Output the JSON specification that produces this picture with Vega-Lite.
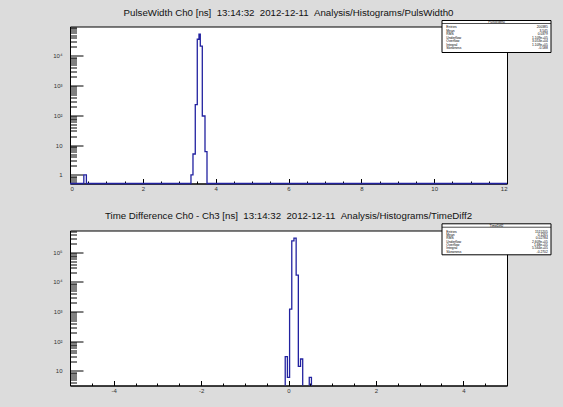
{
  "$schema": "https://vega.github.io/schema/vega-lite/v6.json",
  "background": "#dcdcdc",
  "padding": {"left": 49, "top": 6.5, "right": 11, "bottom": 11},
  "config": {
    "view": {"stroke": "#000000", "strokeWidth": 1, "fill": "white"},
    "font": "Liberation Sans",
    "title": {"font": "Liberation Sans", "fontSize": 9.7, "fontWeight": "normal", "color": "#111111", "offset": 2.6, "anchor": "middle", "baseline": "alphabetic"},
    "axis": {"labelFont": "Liberation Sans", "labelFontSize": 6, "labelColor": "#333333", "tickColor": "#000000", "domainColor": "#000000", "grid": false, "title": null}
  },
  "datasets": {
    "pw": [
      {"x": 0, "n": 0}, {"x": 0.38, "n": 1}, {"x": 0.45, "n": 0},
      {"x": 3.322, "n": 1}, {"x": 3.377, "n": 5}, {"x": 3.44, "n": 230},
      {"x": 3.495, "n": 36000}, {"x": 3.542, "n": 53000}, {"x": 3.578, "n": 21000},
      {"x": 3.633, "n": 95}, {"x": 3.707, "n": 6}, {"x": 3.762, "n": 0}, {"x": 12, "n": 0}
    ],
    "td": [
      {"x": -5, "n": 0}, {"x": -0.075, "n": 30}, {"x": -0.025, "n": 6},
      {"x": 0.025, "n": 1200}, {"x": 0.075, "n": 240000}, {"x": 0.125, "n": 300000},
      {"x": 0.175, "n": 17000}, {"x": 0.225, "n": 14}, {"x": 0.275, "n": 25},
      {"x": 0.325, "n": 0}, {"x": 0.475, "n": 6}, {"x": 0.525, "n": 0}, {"x": 5, "n": 0}
    ],
    "pwStats": [
      {"stat": "Entries", "value": "200385"},
      {"stat": "Mean", "value": "3.545"},
      {"stat": "RMS", "value": "0.0379"},
      {"stat": "Underflow", "value": "1.109e+05"},
      {"stat": "Overflow", "value": "3.053e+04"},
      {"stat": "Integral", "value": "1.109e+05"},
      {"stat": "Skewness", "value": "-0.588"}
    ],
    "tdStats": [
      {"stat": "Entries", "value": "1515205"},
      {"stat": "Mean", "value": "0.1265"},
      {"stat": "RMS", "value": "0.02784"},
      {"stat": "Underflow", "value": "2.609e+05"},
      {"stat": "Overflow", "value": "1.68e+05"},
      {"stat": "Integral", "value": "5.564e+05"},
      {"stat": "Skewness", "value": "-0.2702"}
    ]
  },
  "spacing": 47,
  "bounds": "flush",
  "vconcat": [
    {
      "width": 437,
      "height": 157,
      "title": {"text": "PulseWidth Ch0 [ns] \u00a013:14:32 \u00a02012-12-11 \u00a0Analysis/Histograms/PulsWidth0"},
      "layer": [
        {
          "data": {"name": "pw"},
          "mark": {"type": "line", "interpolate": "step-after", "clip": false, "color": "#2222a0", "strokeWidth": 1.3},
          "encoding": {
            "x": {"field": "x", "type": "quantitative",
              "scale": {"domain": [0, 12], "nice": false, "zero": false},
              "axis": {"orient": "bottom", "values": [0, 2, 4, 6, 8, 10, 12], "tickSize": -5, "labelPadding": 7, "labelExpr": "datum.value + ''", "minExtent": 12, "maxExtent": 12}},
            "y": {"field": "n", "type": "quantitative",
              "scale": {"type": "symlog", "constant": 0.001, "domain": [0.51, 96600], "clamp": true, "nice": false, "zero": false},
              "axis": {"orient": "left", "values": [1, 10, 100, 1000, 10000], "tickSize": -13, "labelPadding": 21, "labelExpr": "datum.value < 5 ? '1' : datum.value < 50 ? '10' : '10' + ['', '', '²', '³', '⁴', '⁵'][round(log(datum.value) / LN10)]", "minExtent": 20, "maxExtent": 20}}
          }
        },
        {
          "data": {"name": "pw"},
          "mark": {"type": "line", "opacity": 0},
          "encoding": {
            "x": {"field": "x", "type": "quantitative",
              "scale": {"domain": [0, 12], "nice": false, "zero": false},
              "axis": {"orient": "bottom", "values": [0.5, 1, 1.5, 2.5, 3, 3.5, 4.5, 5, 5.5, 6.5, 7, 7.5, 8.5, 9, 9.5, 10.5, 11, 11.5], "tickSize": -2.5, "labels": false, "domain": false, "minExtent": 12, "maxExtent": 12}},
            "y": {"field": "n", "type": "quantitative",
              "scale": {"type": "symlog", "constant": 0.001, "domain": [0.51, 96600], "clamp": true, "nice": false, "zero": false},
              "axis": {"orient": "left", "values": [0.6, 0.7, 0.8, 0.9, 2, 3, 4, 5, 6, 7, 8, 9, 20, 30, 40, 50, 60, 70, 80, 90, 200, 300, 400, 500, 600, 700, 800, 900, 2000, 3000, 4000, 5000, 6000, 7000, 8000, 9000, 20000, 30000, 40000, 50000, 60000, 70000, 80000, 90000], "tickSize": -6.5, "labels": false, "domain": false, "minExtent": 20, "maxExtent": 20}}
          }
        },
        {
          "data": {"values": [{}]},
          "mark": {"type": "rect", "fill": "white", "stroke": "#000000", "strokeWidth": 1},
          "encoding": {
            "x": {"datum": 0, "type": "quantitative", "scale": {"domain": [0, 1], "range": [372, 481]}, "axis": null},
            "x2": {"datum": 1},
            "y": {"datum": 0, "type": "quantitative", "scale": {"domain": [0, 1], "range": [-6, 26]}, "axis": null},
            "y2": {"datum": 1}
          }
        },
        {
          "data": {"values": [{}]},
          "mark": {"type": "rule", "stroke": "#000000", "strokeWidth": 0.7},
          "encoding": {
            "x": {"datum": 0, "type": "quantitative", "scale": {"domain": [0, 1], "range": [372, 481]}, "axis": null},
            "x2": {"datum": 1},
            "y": {"datum": 0.094, "type": "quantitative", "scale": {"domain": [0, 1], "range": [-6, 26]}, "axis": null}
          }
        },
        {
          "data": {"values": [{"name": "PulsWidth0"}]},
          "mark": {"type": "text", "align": "center", "baseline": "middle", "fontSize": 3.3, "color": "#000000"},
          "encoding": {
            "x": {"datum": 0.5, "type": "quantitative", "scale": {"domain": [0, 1], "range": [372, 481]}, "axis": null},
            "y": {"datum": 0.05, "type": "quantitative", "scale": {"domain": [0, 1], "range": [-6, 26]}, "axis": null},
            "text": {"field": "name"}
          }
        },
        {
          "data": {"name": "pwStats"},
          "mark": {"type": "text", "align": "left", "baseline": "middle", "fontSize": 3.3, "color": "#000000"},
          "encoding": {
            "x": {"datum": 0.04, "type": "quantitative", "scale": {"domain": [0, 1], "range": [372, 481]}, "axis": null},
            "y": {"field": "stat", "type": "ordinal", "scale": {"type": "point", "domain": ["Entries", "Mean", "RMS", "Underflow", "Overflow", "Integral", "Skewness"], "range": [-1, 23.3]}, "axis": null},
            "text": {"field": "stat"}
          }
        },
        {
          "data": {"name": "pwStats"},
          "mark": {"type": "text", "align": "right", "baseline": "middle", "fontSize": 3.3, "color": "#000000"},
          "encoding": {
            "x": {"datum": 0.97, "type": "quantitative", "scale": {"domain": [0, 1], "range": [372, 481]}, "axis": null},
            "y": {"field": "stat", "type": "ordinal", "scale": {"type": "point", "domain": ["Entries", "Mean", "RMS", "Underflow", "Overflow", "Integral", "Skewness"], "range": [-1, 23.3]}, "axis": null},
            "text": {"field": "value"}
          }
        }
      ],
      "resolve": {"scale": {"x": "independent", "y": "independent"}}
    },
    {
      "width": 437,
      "height": 155,
      "title": {"text": "Time Difference Ch0 - Ch3 [ns] \u00a013:14:32 \u00a02012-12-11 \u00a0Analysis/Histograms/TimeDiff2", "offset": 2.8},
      "layer": [
        {
          "data": {"name": "td"},
          "mark": {"type": "line", "interpolate": "step-after", "clip": true, "color": "#2222a0", "strokeWidth": 1.3},
          "encoding": {
            "x": {"field": "x", "type": "quantitative",
              "scale": {"domain": [-5, 5], "nice": false, "zero": false},
              "axis": {"orient": "bottom", "values": [-4, -2, 0, 2, 4], "tickSize": -5, "labelPadding": 7, "labelExpr": "datum.value + ''", "minExtent": 12, "maxExtent": 12}},
            "y": {"field": "n", "type": "quantitative",
              "scale": {"type": "symlog", "constant": 0.001, "domain": [3.19, 540000], "nice": false, "zero": false},
              "axis": {"orient": "left", "values": [10, 100, 1000, 10000, 100000], "tickSize": -13, "labelPadding": 21, "labelExpr": "datum.value < 5 ? '1' : datum.value < 50 ? '10' : '10' + ['', '', '²', '³', '⁴', '⁵'][round(log(datum.value) / LN10)]", "minExtent": 20, "maxExtent": 20}}
          }
        },
        {
          "data": {"name": "td"},
          "mark": {"type": "line", "opacity": 0},
          "encoding": {
            "x": {"field": "x", "type": "quantitative",
              "scale": {"domain": [-5, 5], "nice": false, "zero": false},
              "axis": {"orient": "bottom", "values": [-4.5, -3.5, -3, -2.5, -1.5, -1, -0.5, 0.5, 1, 1.5, 2.5, 3, 3.5, 4.5], "tickSize": -2.5, "labels": false, "domain": false, "minExtent": 12, "maxExtent": 12}},
            "y": {"field": "n", "type": "quantitative",
              "scale": {"type": "symlog", "constant": 0.001, "domain": [3.19, 540000], "nice": false, "zero": false},
              "axis": {"orient": "left", "values": [4, 5, 6, 7, 8, 9, 20, 30, 40, 50, 60, 70, 80, 90, 200, 300, 400, 500, 600, 700, 800, 900, 2000, 3000, 4000, 5000, 6000, 7000, 8000, 9000, 20000, 30000, 40000, 50000, 60000, 70000, 80000, 90000, 200000, 300000, 400000, 500000], "tickSize": -6.5, "labels": false, "domain": false, "minExtent": 20, "maxExtent": 20}}
          }
        },
        {
          "data": {"values": [{}]},
          "mark": {"type": "rect", "fill": "white", "stroke": "#000000", "strokeWidth": 1},
          "encoding": {
            "x": {"datum": 0, "type": "quantitative", "scale": {"domain": [0, 1], "range": [372, 481]}, "axis": null},
            "x2": {"datum": 1},
            "y": {"datum": 0, "type": "quantitative", "scale": {"domain": [0, 1], "range": [-6.7, 24.3]}, "axis": null},
            "y2": {"datum": 1}
          }
        },
        {
          "data": {"values": [{}]},
          "mark": {"type": "rule", "stroke": "#000000", "strokeWidth": 0.7},
          "encoding": {
            "x": {"datum": 0, "type": "quantitative", "scale": {"domain": [0, 1], "range": [372, 481]}, "axis": null},
            "x2": {"datum": 1},
            "y": {"datum": 0.11, "type": "quantitative", "scale": {"domain": [0, 1], "range": [-6.7, 24.3]}, "axis": null}
          }
        },
        {
          "data": {"values": [{"name": "TimeDiff2"}]},
          "mark": {"type": "text", "align": "center", "baseline": "middle", "fontSize": 3.3, "color": "#000000"},
          "encoding": {
            "x": {"datum": 0.5, "type": "quantitative", "scale": {"domain": [0, 1], "range": [372, 481]}, "axis": null},
            "y": {"datum": 0.06, "type": "quantitative", "scale": {"domain": [0, 1], "range": [-6.7, 24.3]}, "axis": null},
            "text": {"field": "name"}
          }
        },
        {
          "data": {"name": "tdStats"},
          "mark": {"type": "text", "align": "left", "baseline": "middle", "fontSize": 3.3, "color": "#000000"},
          "encoding": {
            "x": {"datum": 0.04, "type": "quantitative", "scale": {"domain": [0, 1], "range": [372, 481]}, "axis": null},
            "y": {"field": "stat", "type": "ordinal", "scale": {"type": "point", "domain": ["Entries", "Mean", "RMS", "Underflow", "Overflow", "Integral", "Skewness"], "range": [-0.7, 23]}, "axis": null},
            "text": {"field": "stat"}
          }
        },
        {
          "data": {"name": "tdStats"},
          "mark": {"type": "text", "align": "right", "baseline": "middle", "fontSize": 3.3, "color": "#000000"},
          "encoding": {
            "x": {"datum": 0.97, "type": "quantitative", "scale": {"domain": [0, 1], "range": [372, 481]}, "axis": null},
            "y": {"field": "stat", "type": "ordinal", "scale": {"type": "point", "domain": ["Entries", "Mean", "RMS", "Underflow", "Overflow", "Integral", "Skewness"], "range": [-0.7, 23]}, "axis": null},
            "text": {"field": "value"}
          }
        }
      ],
      "resolve": {"scale": {"x": "independent", "y": "independent"}}
    }
  ]
}
